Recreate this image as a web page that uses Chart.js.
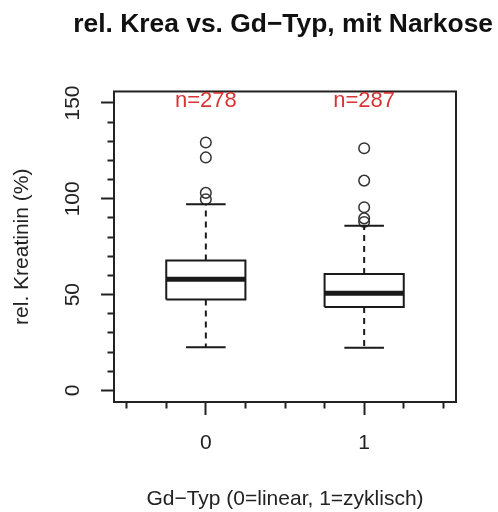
<!DOCTYPE html>
<html lang="de">
<head>
    <meta charset="UTF-8">
    <title>rel. Krea vs. Gd-Typ</title>
    <script src="https://cdn.jsdelivr.net/npm/chart.js@4.4.1/dist/chart.umd.min.js"></script>
    <style>
        html, body {margin: 0; padding: 0; background: #fff;}
        #wrap {width: 498px; height: 512px;}
    </style>
</head>
<body>
    <div id="wrap">
        <canvas id="boxChart" width="498" height="512"></canvas>
    </div>

    <script>
        // Gd-Typ groups (0 = linear, 1 = zyklisch)
        const groups = ['0', '1'];
        const groupX = [0, 1];
        const counts = [278, 287];

        // box statistics, rel. Kreatinin (%)
        const lowerWhisker = [22.6, 22.3];
        const q1 = [47.5, 43.5];
        const median = [58.0, 50.8];
        const q3 = [67.8, 60.8];
        const upperWhisker = [97.2, 86.0];
        const outliers = [
            [129.4, 121.6, 103.1, 99.8],
            [126.4, 109.5, 95.6, 89.8, 87.9]
        ];

        const yTickLabels = [0, 50, 100, 150];

        const FONT = '"Liberation Sans", Arial, sans-serif';
        const BOX_HALF = 0.25;
        const CAP_HALF = 0.125;

        function seg(points, width, dash) {
            return {
                data: points,
                showLine: true,
                borderColor: '#1a1a1a',
                borderWidth: width,
                borderDash: dash || [],
                pointRadius: 0,
                fill: false
            };
        }

        const datasets = [];
        groupX.forEach(function (gx, i) {
            datasets.push(seg([
                {x: gx - BOX_HALF, y: q1[i]}, {x: gx + BOX_HALF, y: q1[i]},
                {x: gx + BOX_HALF, y: q3[i]}, {x: gx - BOX_HALF, y: q3[i]},
                {x: gx - BOX_HALF, y: q1[i]}
            ], 2));
            datasets.push(seg([{x: gx - BOX_HALF, y: median[i]}, {x: gx + BOX_HALF, y: median[i]}], 5));
            datasets.push(seg([{x: gx, y: q3[i]}, {x: gx, y: upperWhisker[i]}], 2, [6, 5]));
            datasets.push(seg([{x: gx, y: q1[i]}, {x: gx, y: lowerWhisker[i]}], 2, [6, 5]));
            datasets.push(seg([{x: gx - CAP_HALF, y: upperWhisker[i]}, {x: gx + CAP_HALF, y: upperWhisker[i]}], 2));
            datasets.push(seg([{x: gx - CAP_HALF, y: lowerWhisker[i]}, {x: gx + CAP_HALF, y: lowerWhisker[i]}], 2));
            datasets.push({
                data: outliers[i].map(function (v) { return {x: gx, y: v}; }),
                showLine: false,
                pointRadius: 5.3,
                pointBorderWidth: 1.5,
                pointBorderColor: '#333',
                pointBackgroundColor: 'rgba(0,0,0,0)'
            });
        });

        const boxPlotExtras = {
            id: 'boxPlotExtras',
            beforeDraw(chart) {
                const ctx = chart.ctx;
                ctx.save();
                ctx.fillStyle = '#fff';
                ctx.fillRect(0, 0, chart.width, chart.height);
                ctx.restore();
            },
            afterDraw(chart) {
                const ctx = chart.ctx;
                const area = chart.chartArea;
                const xs = chart.scales.x;
                const ys = chart.scales.y;
                ctx.save();
                // frame around plot
                ctx.strokeStyle = '#222';
                ctx.lineWidth = 2;
                ctx.strokeRect(area.left, area.top, area.right - area.left, area.bottom - area.top);

                // rotated y tick labels
                ctx.fillStyle = '#222';
                ctx.font = '21px ' + FONT;
                ctx.textAlign = 'center';
                ctx.textBaseline = 'middle';
                yTickLabels.forEach(function (v) {
                    ctx.save();
                    ctx.translate(73, ys.getPixelForValue(v));
                    ctx.rotate(-Math.PI / 2);
                    ctx.fillText(String(v), 0, 0);
                    ctx.restore();
                });

                // n= labels
                ctx.fillStyle = '#d93434';
                ctx.font = '22px ' + FONT;
                groupX.forEach(function (gx, i) {
                    ctx.fillText('n=' + counts[i], xs.getPixelForValue(gx), ys.getPixelForValue(151));
                });
                ctx.restore();
            }
        };

        new Chart(document.getElementById('boxChart'), {
            type: 'scatter',
            data: {datasets: datasets},
            options: {
                responsive: false,
                animation: false,
                layout: {padding: {top: 0, right: 5, bottom: 0, left: 0}},
                plugins: {
                    legend: {display: false},
                    tooltip: {enabled: false},
                    title: {
                        display: true,
                        text: 'rel. Krea vs. Gd\u2212Typ, mit Narkose',
                        align: 'end',
                        color: '#111',
                        font: {family: FONT, size: 26.4, weight: 'bold'},
                        padding: {top: 9, bottom: 50.8}
                    }
                },
                scales: {
                    x: {
                        type: 'linear',
                        min: -0.58,
                        max: 1.58,
                        afterFit: function (scale) { scale.height = 110; },
                        border: {display: false},
                        grid: {
                            drawOnChartArea: false,
                            drawTicks: true,
                            tickLength: 13,
                            tickWidth: 2,
                            tickColor: '#222',
                            tickBorderDash: function (c) {
                                return (c.tick && Number.isInteger(c.tick.value)) ? [] : [6.5, 100];
                            }
                        },
                        ticks: {
                            stepSize: 0.25,
                            includeBounds: false,
                            autoSkip: false,
                            maxRotation: 0,
                            padding: 16,
                            color: '#222',
                            font: {family: FONT, size: 21},
                            callback: function (v) {
                                const idx = groupX.indexOf(v);
                                return idx >= 0 ? groups[idx] : '';
                            }
                        },
                        title: {
                            display: true,
                            text: 'Gd\u2212Typ (0=linear, 1=zyklisch)',
                            color: '#222',
                            font: {family: FONT, size: 21},
                            padding: {top: 0, bottom: 0.5}
                        }
                    },
                    y: {
                        min: -6,
                        max: 156,
                        afterFit: function (scale) { scale.width = 114; },
                        border: {display: false},
                        grid: {
                            drawOnChartArea: false,
                            drawTicks: true,
                            tickLength: 13,
                            tickWidth: 2,
                            tickColor: '#222',
                            tickBorderDash: function (c) {
                                return (c.tick && c.tick.value % 50 === 0) ? [] : [0, 6.5, 6.5, 100];
                            }
                        },
                        ticks: {
                            stepSize: 10,
                            includeBounds: false,
                            display: false
                        },
                        title: {
                            display: true,
                            text: 'rel. Kreatinin (%)',
                            color: '#222',
                            font: {family: FONT, size: 21},
                            padding: {top: 9.4, bottom: 0}
                        }
                    },
                    // empty right margin, keeps the title free to run past the plot
                    yRight: {
                        type: 'linear',
                        position: 'right',
                        afterFit: function (scale) { scale.width = 37; },
                        border: {display: false},
                        grid: {display: false},
                        ticks: {display: false}
                    }
                }
            },
            plugins: [boxPlotExtras]
        });
    </script>
</body>
</html>
